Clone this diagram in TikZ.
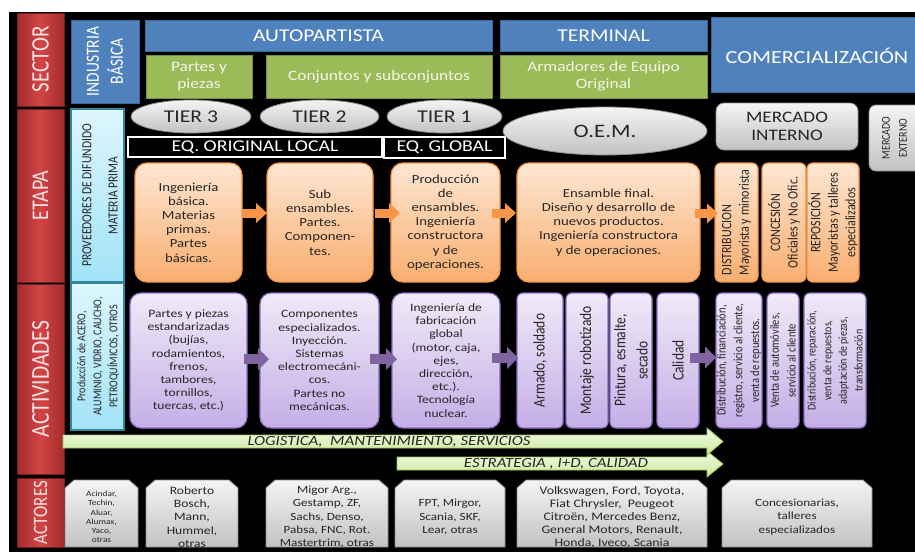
\documentclass[tikz,border=0pt]{standalone}
\usepackage{fontspec}
\setmainfont{Carlito}[FakeStretch=1.2]
\newfontfamily\rf{Carlito}
\usetikzlibrary{arrows.meta,shapes.geometric}
\definecolor{redL}{HTML}{D24545}
\definecolor{redD}{HTML}{A32B2B}
\definecolor{redT}{HTML}{F7E2E2}
\definecolor{blueF}{HTML}{4F81BD}
\definecolor{blueE}{HTML}{3B6698}
\definecolor{greenF}{HTML}{9BBB59}
\definecolor{greenE}{HTML}{76923C}
\definecolor{greenT}{HTML}{F2F7E8}
\definecolor{cyanT}{HTML}{DDF6FD}
\definecolor{cyanB}{HTML}{A2E3F7}
\definecolor{cyanE}{HTML}{31859C}
\definecolor{orT}{HTML}{FEE6D2}
\definecolor{orB}{HTML}{F9AE70}
\definecolor{orE}{HTML}{F79646}
\definecolor{puT}{HTML}{F0EAF8}
\definecolor{puB}{HTML}{C4AEE6}
\definecolor{puE}{HTML}{8C6FC4}
\definecolor{grT}{HTML}{F4F4F4}
\definecolor{grB}{HTML}{C2C2C2}
\definecolor{grE}{HTML}{8C8C8C}
\definecolor{lgT}{HTML}{F3FBE6}
\definecolor{lgB}{HTML}{C9E99A}
\definecolor{lgE}{HTML}{9BC35A}
\definecolor{txt}{HTML}{262626}
\definecolor{arO}{HTML}{F79646}
\definecolor{arP}{HTML}{8064A2}
\newcommand\fs[2]{\fontsize{#1}{#2}\selectfont}
\newcommand\bx[7]{\node[inner sep=0pt, outer sep=0pt, #1, minimum width={(#5-#3)*1pt}, minimum height={(#6-#4)*1pt}] (#2) at ({(#3+#5)/2},{(#4+#6)/2}) {#7};}
\newcommand\actor[7]{\path[grbox] (#2,{#3+8}) -- ({#2+9},#3) -- ({#4-9},#3) -- (#4,{#3+8}) -- (#4,#5) -- (#2,#5) -- cycle;
\node[text=txt, align=center, inner sep=0pt, font=#6] (#1) at ({(#2+#4)/2},517) {#7};}
\tikzset{
 redbox/.style={left color=redD, right color=redD, middle color=redL, draw=redD!70!black, line width=0.8pt},
 bluebox/.style={fill=blueF, draw=blueE, line width=1pt, text=white},
 greenbox/.style={fill=greenF, draw=greenE, line width=1pt, text=greenT, align=center},
 cyanbox/.style={top color=cyanT, bottom color=cyanB, draw=cyanE, line width=1.2pt},
 orbox/.style={top color=orT, bottom color=orB, draw=orE, line width=1.2pt, rounded corners=12pt, text=txt, align=center},
 orsm/.style={orbox, rounded corners=6pt},
 pubox/.style={top color=puT, bottom color=puB, draw=puE, line width=1.2pt, rounded corners=11pt, text=txt, align=center},
 pusm/.style={pubox, rounded corners=6pt},
 grbox/.style={top color=grT, bottom color=grB, draw=grE, line width=0.8pt, text=txt, align=center},
 eqbox/.style={fill=black, draw=white, line width=2.2pt, text=white},
 tier/.style={ellipse, grbox, inner sep=0pt},
 oarr/.style={draw=arO, line width=9pt, -{Triangle[length=11pt 0 0,width=20pt 0 0,line width=0pt]}},
 parr/.style={draw=arP, line width=10pt, -{Triangle[length=11pt 0 0,width=22pt 0 0,line width=0pt]}},
 garrow/.style={top color=lgT, bottom color=lgB, draw=lgE, line width=0.8pt},
 vlab/.style={rotate=90, yscale=1.2, align=center, inner sep=0pt, text=txt},
}
\begin{document}
\begin{tikzpicture}[x=1pt,y=-1pt]
\useasboundingbox (0,0) rectangle (915,552);
\fill[black] (9,12) rectangle (915,552);
% left red column
\bx{redbox}{sect}{17}{13}{64}{106}{}
\bx{redbox}{etap}{17}{109}{64}{282}{}
\bx{redbox}{acti}{17}{284}{64}{474}{}
\bx{redbox}{acto}{17}{478}{64}{547}{}
\node[vlab, text=redT, font=\rf\fs{21}{24}] (sect-l) at (sect.center) {SECTOR};
\node[vlab, text=redT, font=\rf\fs{20}{24}] (etap-l) at (etap.center) {ETAPA};
\node[vlab, text=redT, font=\rf\fs{21.5}{24}] (acti-l) at (acti.center) {ACTIVIDADES};
\node[vlab, text=redT, font=\rf\fs{17}{20}] (acto-l) at (acto.center) {ACTORES};
% sector row
\bx{bluebox}{ind}{71}{20}{139}{103}{}
\node[vlab, text=white, font=\rf\fs{15.5}{20}] (ind-l) at (ind.center) {INDUSTRIA\\BÁSICA};
\bx{bluebox, font=\fs{18}{20}}{auto}{145}{20}{492}{51}{AUTOPARTISTA}
\bx{bluebox, font=\fs{18}{20}}{term}{500}{20}{707}{51}{TERMINAL}
\bx{bluebox}{com}{711}{17}{925}{92}{}
\node[text=white, font=\fs{18.5}{20}, inner sep=0pt] (com-l) at (817,56) {COMERCIALIZACIÓN};
\bx{greenbox, font=\fs{14.5}{17}}{pp}{146}{55}{252}{98}{Partes y\\piezas}
\bx{greenbox, font=\fs{14.5}{17}}{cs}{266}{55}{492}{98}{Conjuntos y subconjuntos}
\bx{greenbox, font=\fs{14.5}{17}}{aeo}{500}{55}{707}{98}{Armadores de Equipo\\Original}
% tiers
\node[tier, minimum width=120pt, minimum height=33pt, font=\fs{18}{20}] (t3) at (191,116.5) {TIER 3};
\node[tier, minimum width=119pt, minimum height=33pt, font=\fs{18}{20}] (t2) at (319.5,116.5) {TIER 2};
\node[tier, minimum width=115pt, minimum height=33pt, font=\fs{18}{20}] (t1) at (444.5,116.5) {TIER 1};
\node[tier, minimum width=204pt, minimum height=48pt, font=\fs{19}{21}] (oem) at (605,131) {O.E.M.};
\bx{eqbox, font=\fs{16.5}{18}}{eql}{128}{137}{382}{157}{EQ. ORIGINAL LOCAL}
\bx{eqbox, font=\fs{16.5}{18}}{eqg}{384}{137}{505}{158}{EQ. GLOBAL}
\bx{grbox, rounded corners=8pt, font=\fs{16}{18}}{mi}{716}{103}{858}{150}{MERCADO\\INTERNO}
\bx{grbox, rounded corners=7pt}{me}{869}{105}{925}{171}{}
\coordinate (me-c) at (894.5,138);
\node[vlab, font=\rf\fs{10}{14}] (me-l) at (me-c) {MERCADO\\EXTERNO};
% etapa row
\bx{cyanbox}{prov}{71}{109}{124}{282}{}
\coordinate (prov-c) at (100,195.5);
\node[vlab, font=\rf\fs{11.6}{21.7}] (prov-l) at (prov-c) {PROVEEDORES DE DIFUNDIDO\\MATERIA PRIMA};
\bx{orbox, font=\fs{12.3}{14.2}}{b1}{135}{163}{242}{282}{Ingeniería\\básica.\\Materias\\primas.\\Partes\\básicas.}
\bx{orbox, font=\fs{12.3}{14.2}}{b2}{267}{163}{373}{282}{Sub\\ensambles.\\Partes.\\Componen-\\tes.}
\bx{orbox, font=\fs{12.3}{14.2}}{b3}{391}{163}{500}{282}{Producción\\de\\ensambles.\\Ingeniería\\constructora\\y de\\operaciones.}
\bx{orbox, font=\fs{12.3}{14.2}}{b4}{517}{163}{700}{282}{Ensamble final.\\Diseño y desarrollo de\\nuevos productos.\\Ingeniería constructora\\y de operaciones.}
\bx{orsm}{dist}{715}{163}{758}{282}{}
\bx{orsm}{conc}{762}{163}{806}{282}{}
\bx{orsm}{repo}{807}{163}{859}{282}{}
\node[vlab, font=\rf\fs{12}{14.6}, align=left] (dist-l) at (dist.center) {DISTRIBUCION\\Mayorista y minorista};
\node[vlab, font=\rf\fs{12}{14.6}] (conc-l) at (conc.center) {CONCESIÓN\\Oficiales y No Ofic.};
\node[vlab, font=\rf\fs{12}{14.6}] (repo-l) at (repo.center) {REPOSICIÓN\\Mayoristas y talleres\\especializados};
% actividades row
\bx{cyanbox}{prod}{71}{283}{124}{430}{}
\coordinate (prod-c) at (98,356.5);
\node[vlab, font=\rf\fs{10}{13.3}] (prod-l) at (prod-c) {Producción de ACERO,\\ALUMINIO, VIDRIO, CAUCHO,\\PETROQUÍMICOS, OTROS};
\bx{pubox, font=\fs{11.3}{13.2}}{p1}{130}{293}{247}{428}{Partes y piezas\\estandarizadas\\(bujías,\\rodamientos,\\frenos,\\tambores,\\tornillos,\\tuercas, etc.)}
\bx{pubox, font=\fs{11.3}{13.2}}{p2}{260}{293}{379}{428}{Componentes\\especializados.\\Inyección.\\Sistemas\\electromecáni-\\cos.\\Partes no\\mecánicas.}
\bx{pubox, font=\fs{11.3}{13.2}}{p3}{392}{293}{500}{428}{Ingeniería de\\fabricación\\global\\(motor, caja,\\ejes,\\dirección,\\etc.).\\Tecnología\\nuclear.}
\bx{pusm}{arm}{517}{293}{563}{428}{}
\bx{pusm}{mon}{566}{293}{608}{428}{}
\bx{pusm}{pin}{610}{293}{652}{428}{}
\bx{pusm}{cal}{657}{293}{699}{428}{}
\bx{pusm}{ca1}{716}{293}{762}{428}{}
\bx{pusm}{ca2}{767}{293}{799}{428}{}
\bx{pusm}{ca3}{804}{293}{866}{428}{}
\node[vlab, font=\rf\fs{13.5}{18.5}] (arm-l) at (arm.center) {Armado, soldado};
\node[vlab, font=\rf\fs{13.5}{18.5}] (mon-l) at (mon.center) {Montaje robotizado};
\node[vlab, font=\rf\fs{13.5}{18.5}] (pin-l) at (pin.center) {Pintura, esmalte,\\secado};
\node[vlab, font=\rf\fs{13.5}{18.5}] (cal-l) at (cal.center) {Calidad};
\node[vlab, font=\rf\fs{10.5}{14}] (ca1-l) at (ca1.center) {Distribución, financiación,\\registro, servicio al cliente,\\venta de repuestos.};
\node[vlab, font=\rf\fs{10.5}{14}] (ca2-l) at (ca2.center) {Venta de automóviles,\\servicio al cliente};
\node[vlab, font=\rf\fs{10}{13}] (ca3-l) at (ca3.center) {Distribución, reparación,\\venta de repuestos,\\adaptación de piezas,\\transformación};
% green arrows
\path[garrow] (397,457) -- (707,457) -- (707,451) -- (723,464) -- (707,477) -- (707,470) -- (397,470) -- cycle;
\path[garrow] (63,435) -- (707,435) -- (707,428) -- (723,441.5) -- (707,455) -- (707,448) -- (63,448) -- cycle;
\node[font=\itshape\fs{14}{16}, text=txt, inner sep=0pt] (log-l) at (389,442) {LOGISTICA,\ \ MANTENIMIENTO, SERVICIOS};
\node[font=\itshape\fs{14}{16}, text=txt, inner sep=0pt] (est-l) at (556,464) {ESTRATEGIA , I+D, CALIDAD};
% actores
\actor{a1}{65}{480}{138}{547}{\fs{7.8}{9.3}}{Acindar,\\Techin,\\Aluar,\\Alumax,\\Yaco,\\otras}
\actor{a2}{146}{480}{238}{547}{\fs{11.3}{13.2}}{Roberto\\Bosch,\\Mann,\\Hummel,\\otras}
\actor{a3}{266}{480}{388}{547}{\fs{11}{13.2}}{Migor Arg.,\\Gestamp, ZF,\\Sachs, Denso,\\Pabsa, FNC, Rot.\\Mastertrim, otras}
\actor{a4}{395}{480}{505}{547}{\fs{11}{13.2}}{FPT, Mirgor,\\Scania, SKF,\\Lear, otras}
\actor{a5}{517}{480}{707}{547}{\fs{11.5}{13}}{Volkswagen, Ford, Toyota,\\Fiat Chrysler,\ \ Peugeot\\Citroën, Mercedes Benz,\\General Motors, Renault,\\Honda, Iveco, Scania}
\actor{a6}{722}{480}{872}{547}{\fs{11}{13.5}}{Concesionarias,\\talleres\\especializados}
% connectors
\draw[oarr] ([yshift=9.5pt]b1.east) -- ([yshift=9.5pt]b2.west);
\draw[oarr] ([xshift=2pt,yshift=9.5pt]b2.east) -- ([xshift=9pt,yshift=9.5pt]b3.west);
\draw[oarr] ([xshift=-8pt,yshift=9.5pt]b3.east) -- ([xshift=-1pt,yshift=9.5pt]b4.west);
\draw[oarr] ([xshift=-5pt,yshift=9pt]b4.east) -- ([xshift=3pt,yshift=9pt]dist.west);
\draw[parr] ([xshift=-3pt,yshift=1.5pt]p1.east) -- ([xshift=9pt,yshift=1.5pt]p2.west);
\draw[parr] ([xshift=-9pt,yshift=1.5pt]p2.east) -- ([xshift=5pt,yshift=1.5pt]p3.west);
\draw[parr] ([xshift=-8pt,yshift=2.5pt]p3.east) -- ([xshift=1pt,yshift=2.5pt]arm.west);
\draw[parr] ([xshift=-9pt,yshift=3pt]cal.east) -- ([xshift=0pt,yshift=3pt]ca1.west);
\end{tikzpicture}
\end{document}
